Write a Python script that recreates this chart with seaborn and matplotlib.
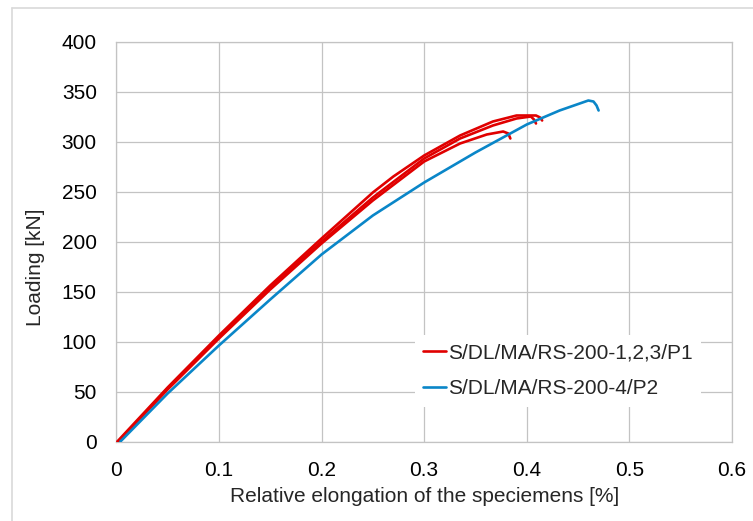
import matplotlib
matplotlib.use("Agg")
import matplotlib.pyplot as plt
from matplotlib.lines import Line2D
import seaborn as sns
import pandas as pd

# ---- data ----
r1_x = [0.002, 0.05, 0.10, 0.15, 0.20, 0.25, 0.30, 0.335, 0.361, 0.377, 0.382, 0.384]
r1_y = [0, 52, 103, 152, 198, 241, 280, 298, 307, 310, 308, 303]

r2_x = [0.002, 0.05, 0.10, 0.15, 0.20, 0.25, 0.30, 0.335, 0.367, 0.39, 0.404, 0.407, 0.409]
r2_y = [0, 53, 104, 154, 200, 244, 283, 303, 316, 323, 325, 322, 318]

r3_x = [0.001, 0.05, 0.10, 0.15, 0.20, 0.25, 0.27, 0.30, 0.335, 0.367, 0.39, 0.409, 0.413, 0.415]
r3_y = [0, 54, 106, 156, 203, 249, 265, 286, 306, 320, 326, 326, 324, 321]

b_x = [0.004, 0.05, 0.10, 0.15, 0.20, 0.25, 0.30, 0.35, 0.375, 0.40, 0.432, 0.46, 0.465, 0.468, 0.470]
b_y = [0, 48, 96, 142, 187, 226, 259, 289, 303, 317, 331, 341, 340, 336, 331]

series_names = ["S/DL/MA/RS-200-1,2,3/P1", "S/DL/MA/RS-200-4/P2"]
x_ticks = [0, 0.1, 0.2, 0.3, 0.4, 0.5, 0.6]
x_tick_labels = ["0", "0.1", "0.2", "0.3", "0.4", "0.5", "0.6"]
y_ticks = [0, 50, 100, 150, 200, 250, 300, 350, 400]

RED = "#e00000"
BLUE = "#0a86c8"

rows = []
for cid, (xs, ys, grp) in enumerate([(r1_x, r1_y, 0), (r2_x, r2_y, 0), (r3_x, r3_y, 0), (b_x, b_y, 1)]):
    for xv, yv in zip(xs, ys):
        rows.append({"curve": f"c{cid}", "group": series_names[grp], "x": xv, "y": yv})
df = pd.DataFrame(rows)

sns.set_theme(style="white")
plt.rcParams["font.family"] = ["Liberation Sans", "DejaVu Sans"]

fig = plt.figure(figsize=(7.53, 5.21), dpi=100)
ax = fig.add_axes([116.3 / 753, 1 - 441.5 / 521, (732 - 116.3) / 753, 400 / 521])

palette = {"c0": RED, "c1": RED, "c2": RED, "c3": BLUE}
sns.lineplot(data=df, x="x", y="y", hue="curve", palette=palette, sort=False,
             estimator=None, linewidth=1.9, legend=False, ax=ax, zorder=3)
for ln in ax.get_lines():
    ln.set_solid_joinstyle("round")
    ln.set_solid_capstyle("round")

ax.set_xlim(0, 0.6)
ax.set_ylim(0, 400)
ax.set_xticks(x_ticks)
ax.set_xticklabels(x_tick_labels)
ax.set_yticks(y_ticks)
ax.set_yticklabels([str(v) for v in y_ticks])
ax.tick_params(axis="both", length=0, labelsize=15, colors="#000000")
ax.tick_params(axis="y", pad=14)
ax.tick_params(axis="x", pad=14)

ax.grid(True, color="#c3c3c3", linewidth=0.9)
ax.set_axisbelow(True)
for s in ax.spines.values():
    s.set_color("#c3c3c3")
    s.set_linewidth(0.9)

ax.set_xlabel("Relative elongation of the speciemens [%]", fontsize=15, va="center")
ax.xaxis.set_label_coords(0.5, (441.5 - 497) / 400)
ax.set_ylabel("Loading [kN]", fontsize=15, va="center")
ax.yaxis.set_label_coords((35 - 116.3) / 616, (441.5 - 267) / 400)

handles = [Line2D([0], [0], color=RED, lw=1.9), Line2D([0], [0], color=BLUE, lw=1.9)]
leg = ax.legend(handles, series_names, loc="center",
                bbox_to_anchor=(558 / 753, 1 - 371 / 521), bbox_transform=fig.transFigure,
                fontsize=15, frameon=True, facecolor="white", edgecolor="none", framealpha=1,
                handlelength=1.1, handletextpad=0.1, labelspacing=0.8, borderpad=0.4,
                fancybox=False)
leg.set_zorder(5)

# outer light border
fig.add_artist(Line2D([12 / 753, 1.0], [1 - 7.5 / 521, 1 - 7.5 / 521], transform=fig.transFigure,
                      color="#d9d9d9", lw=1.2))
fig.add_artist(Line2D([12 / 753, 12 / 753], [0, 1 - 7.5 / 521], transform=fig.transFigure,
                      color="#d9d9d9", lw=1.2))

fig.savefig("out.png", dpi=100)
